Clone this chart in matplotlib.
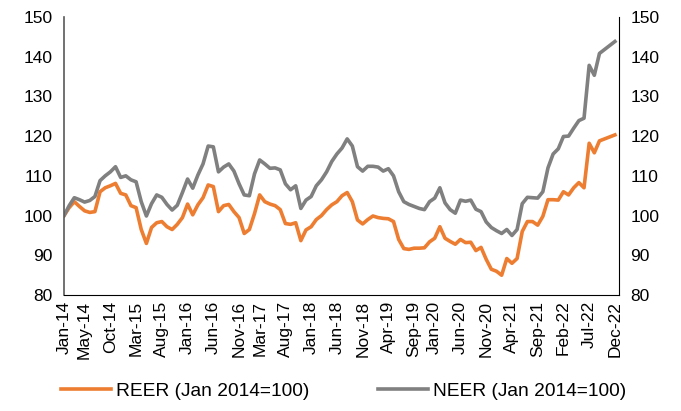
import numpy as np
import pandas as pd
import matplotlib.pyplot as plt

plt.rcParams['font.family'] = ['Liberation Sans', 'DejaVu Sans']

months = pd.date_range('2014-01-01', '2022-12-01', freq='MS')

reer = [100.0, 102.0, 103.5, 102.3, 101.2, 100.8, 101.0, 106.0, 107.0, 107.5,
        108.1, 105.6, 105.2, 102.5, 102.0, 96.5, 93.0, 97.0, 98.2, 98.5,
        97.2, 96.5, 97.8, 99.5, 102.9, 100.2, 102.7, 104.5, 107.7, 107.3,
        101.0, 102.5, 102.8, 101.0, 99.5, 95.5, 96.5, 100.5, 105.2, 103.5,
        102.9, 102.5, 101.5, 98.0, 97.8, 98.2, 93.7, 96.4, 97.2, 99.0,
        100.0, 101.5, 102.7, 103.5, 105.0, 105.8, 103.5, 98.9, 97.9, 99.0,
        99.9, 99.5, 99.3, 99.2, 98.5, 94.0, 91.7, 91.5, 91.8, 91.8,
        91.9, 93.4, 94.3, 97.2, 94.3, 93.5, 92.8, 94.0, 93.2, 93.3,
        91.2, 92.0, 89.0, 86.5, 86.0, 85.0, 89.2, 88.0, 89.2, 96.0,
        98.5, 98.5, 97.6, 99.8, 104.0, 104.0, 103.9, 106.0, 105.2, 107.0,
        108.3, 107.0, 118.2, 115.8, 118.8, 119.3, 119.8, 120.3]

neer = [100.0, 102.5, 104.5, 104.0, 103.4, 103.8, 104.8, 108.8, 110.0, 111.0,
        112.3, 109.6, 110.0, 109.0, 108.5, 103.5, 99.9, 103.0, 105.2, 104.6,
        102.8, 101.4, 102.6, 105.8, 109.2, 106.9, 110.2, 113.0, 117.5, 117.3,
        111.0, 112.2, 113.0, 111.2, 108.0, 105.2, 105.0, 110.5, 114.0, 113.0,
        111.9, 112.0, 111.5, 108.0, 106.5, 107.5, 101.8, 103.9, 104.8, 107.5,
        109.0, 111.0, 113.6, 115.5, 117.0, 119.3, 117.5, 112.3, 111.2, 112.4,
        112.4, 112.2, 111.2, 111.8, 110.0, 106.0, 103.5, 102.8, 102.3, 101.8,
        101.5, 103.5, 104.4, 107.0, 103.2, 101.5, 100.6, 103.9, 103.6, 103.9,
        101.6, 101.0, 98.4, 97.0, 96.2, 95.5, 96.5, 95.0, 96.5, 103.0,
        104.6, 104.5, 104.4, 106.0, 112.0, 115.5, 116.8, 119.9, 120.0, 122.0,
        123.9, 124.5, 137.8, 135.3, 140.8, 141.8, 142.8, 143.8]

tick_idx = [0, 4, 9, 14, 19, 24, 29, 34, 38, 43, 48, 53, 58, 63, 68, 72,
            77, 82, 87, 92, 97, 102, 107]
tick_labels = [months[i].strftime('%b-%y') for i in tick_idx]

fig = plt.figure(figsize=(6.81, 4.11), dpi=100)
ax = fig.add_axes([0.094, 0.282, 0.815, 0.677])

x = np.arange(len(months))
ax.plot(x, reer, color='#ED7D31', lw=2.6, solid_joinstyle='round',
        label='REER (Jan 2014=100)')
ax.plot(x, neer, color='#808080', lw=2.6, solid_joinstyle='round',
        label='NEER (Jan 2014=100)')

ax.set_xlim(0, 107.8)
ax.set_ylim(80, 150)
ax.set_yticks(range(80, 151, 10))
ax.set_xticks(tick_idx)
ax.set_xticklabels(tick_labels, rotation=90)
ax.tick_params(axis='both', length=0, labelsize=12.5, pad=4)
ax.tick_params(axis='y', labelright=True, pad=8)

ax.spines['top'].set_visible(False)
ax.spines['left'].set_color('#595959')
ax.spines['left'].set_linewidth(1.2)
ax.spines['bottom'].set_color('#000000')
ax.spines['right'].set_color('#000000')

fig.legend(loc='lower center', bbox_to_anchor=(0.505, -0.015), ncol=2,
           frameon=False, fontsize=13.8, handlelength=2.6, columnspacing=3.6,
           handletextpad=0.25)

plt.savefig('out.png', dpi=100)
